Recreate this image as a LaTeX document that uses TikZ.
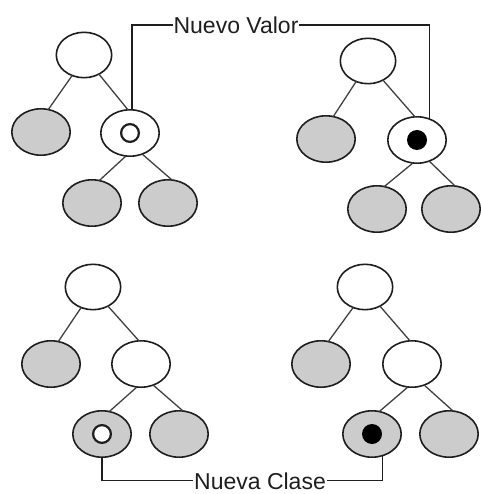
\documentclass[tikz,border=0pt]{standalone}
\usepackage{fontspec}
\setmainfont{Liberation Sans}
\usetikzlibrary{shapes.geometric}
\definecolor{leafgray}{RGB}{204,204,204}
\definecolor{ink}{RGB}{30,30,30}
\tikzset{
  treenode/.style={ellipse, draw=ink, line width=1.6pt, inner sep=0pt, outer sep=0pt,
                   minimum width=58.4pt, minimum height=46.4pt, fill=white},
  rootnode/.style={treenode, minimum width=55.4pt, minimum height=45.4pt},
  leafnode/.style={treenode, fill=leafgray},
  hollowdot/.style={circle, draw=ink, line width=2.2pt, fill=white, inner sep=0pt, minimum size=17.8pt},
  soliddot/.style={circle, fill=black, inner sep=0pt, minimum size=20pt},
  edge/.style={draw=ink!85, line width=1.3pt},
  callout/.style={draw=ink, line width=1.3pt},
  tag/.style={font=\fontsize{23}{23}\selectfont, text=ink, inner sep=0.5pt, text depth=0pt}
}
\begin{document}
\begin{tikzpicture}[x=1pt,y=-1pt]
\useasboundingbox (0,0) rectangle (480,494);

% tree before the value change (top left)
\node[rootnode] (a0) at (84,55) {};
\node[leafnode] (al) at (41,132) {};
\node[treenode] (ar) at (130,133) {};
\node[leafnode] (arl) at (92,203) {};
\node[leafnode] (arr) at (168,203) {};
\node[hollowdot] (adot) at (ar) {};
\draw[edge] (a0.240) -- (al.72);
\draw[edge] (a0.308) -- (ar.95);
\draw[edge] (ar.260) -- (arl.72);
\draw[edge] (ar.300) -- (arr.80);

% tree after the value change (top right)
\node[rootnode] (b0) at (368,61) {};
\node[leafnode] (bl) at (326,139) {};
\node[treenode] (br) at (417,140) {};
\node[leafnode] (brl) at (377,209) {};
\node[leafnode] (brr) at (451,209) {};
\node[soliddot] (bdot) at (br) {};
\draw[edge] (b0.240) -- (bl.72);
\draw[edge] (b0.308) -- (br.95);
\draw[edge] (br.260) -- (brl.72);
\draw[edge] (br.300) -- (brr.80);

% tree before the class change (bottom left)
\node[rootnode] (c0) at (93,287) {};
\node[leafnode] (cl) at (51,364) {};
\node[treenode] (cr) at (141,364) {};
\node[leafnode] (crl) at (102,434) {};
\node[leafnode] (crr) at (179,434) {};
\node[hollowdot] (cdot) at (crl) {};
\draw[edge] (c0.240) -- (cl.72);
\draw[edge] (c0.308) -- (cr.95);
\draw[edge] (cr.260) -- (crl.72);
\draw[edge] (cr.300) -- (crr.80);

% tree after the class change (bottom right)
\node[rootnode] (d0) at (365,287) {};
\node[leafnode] (dl) at (321,364) {};
\node[treenode] (dr) at (412,364) {};
\node[leafnode] (drl) at (372,434) {};
\node[leafnode] (drr) at (449,434) {};
\node[soliddot] (ddot) at (drl) {};
\draw[edge] (d0.240) -- (dl.72);
\draw[edge] (d0.308) -- (dr.95);
\draw[edge] (dr.260) -- (drl.72);
\draw[edge] (dr.300) -- (drr.80);

% labels and their brackets
\node[tag] (nv) at (236,25) {Nuevo Valor};
\draw[callout] (ar.85) |- (nv.west);
\draw[callout] (nv.east) -| (br.59);

\node[tag, anchor=base] (nc) at (260,489) {Nueva Clase};
\draw[callout] (crl.south) |- (nc.west);
\draw[callout] (nc.east) -| (drl.296);
\end{tikzpicture}
\end{document}
